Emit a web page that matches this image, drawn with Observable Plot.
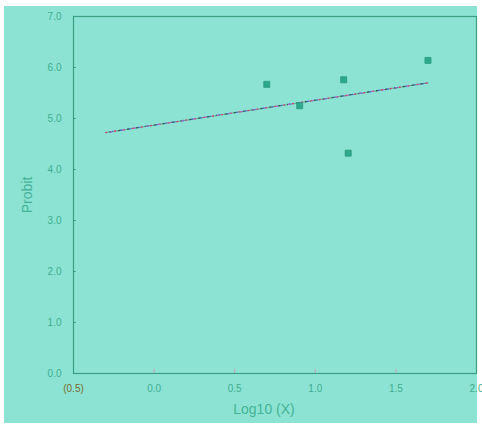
<!DOCTYPE html>
<html>
<head>
<meta charset="utf-8">
<script src="https://cdn.jsdelivr.net/npm/d3@7"></script>
<script src="https://cdn.jsdelivr.net/npm/@observablehq/plot@0.6"></script>
<style>
  html, body { margin: 0; padding: 0; background: #ffffff; }
  #wrap { position: relative; width: 482px; height: 425px; overflow: hidden; }
  #bg { position: absolute; left: 4px; top: 6px; width: 473px; height: 417px; background: #8ce3d4; }
  #chart { position: absolute; left: 0; top: 0; }
</style>
</head>
<body>
<div id="wrap"><div id="bg"></div><div id="chart"></div></div>
<script>
// Observed points: log10 of dose vs probit
const logX = [0.699, 0.903, 1.176, 1.204, 1.699];
const probit = [5.67, 5.25, 5.76, 4.32, 6.14];
// Fitted regression line endpoints
const fitX = [-0.30, 1.70];
const fitY = [4.725, 5.70];
// Tick values
const xTicks = [0, 0.5, 1.0, 1.5, 2.0];
const xNegTicks = [-0.5];
const yTicks = [0, 1, 2, 3, 4, 5, 6, 7];

const points = logX.map((x, i) => ({x, y: probit[i]}));
const fit = fitX.map((x, i) => ({x, y: fitY[i]}));

const tickColor = "#3fae8f";
const fmt = d => d < 0 ? `(${Math.abs(d).toFixed(1)})` : d.toFixed(1);

const chart = Plot.plot({
  width: 482,
  height: 425,
  marginLeft: 73,
  marginRight: 6,
  marginTop: 16,
  marginBottom: 52,
  style: {background: "transparent", fontFamily: "'Liberation Sans', Arial, sans-serif", fontSize: "10px"},
  x: {domain: [-0.5, 2.0]},
  y: {domain: [0, 7]},
  marks: [
    Plot.axisX({ticks: xTicks, tickFormat: fmt, tickSize: 0, tickPadding: 11, fill: tickColor, label: null}),
    Plot.axisX({ticks: xNegTicks, tickFormat: fmt, tickSize: 0, tickPadding: 11, fill: "#7a6a2a", label: null}),
    Plot.axisY({ticks: yTicks, tickFormat: d => d.toFixed(1), tickSize: 0, tickPadding: 12, fill: tickColor, label: null}),
    // inner tick marks
    Plot.ruleY(yTicks.filter(d => d > 0 && d < 7), {x1: -0.5, x2: -0.485, stroke: "#2f8a70", strokeWidth: 1}),
    Plot.ruleX(xTicks.filter(d => d < 2), {y1: 0, y2: 0.08, stroke: "#c9a0b8", strokeWidth: 1}),
    Plot.frame({stroke: "#3a9f80", strokeWidth: 1.2}),
    // speckled fit line
    Plot.line(fit, {x: "x", y: "y", stroke: "#72b0a0", strokeWidth: 1.3}),
    Plot.line(fit, {x: "x", y: "y", stroke: "#d04070", strokeWidth: 1.3, strokeDasharray: "1,8"}),
    Plot.line(fit, {x: "x", y: "y", stroke: "#4a6ad0", strokeWidth: 1.3, strokeDasharray: "1,8", strokeDashoffset: 3}),
    Plot.line(fit, {x: "x", y: "y", stroke: "#2a5a48", strokeWidth: 1.3, strokeDasharray: "1,8", strokeDashoffset: 5}),
    Plot.line(fit, {x: "x", y: "y", stroke: "#b070d0", strokeWidth: 1.3, strokeDasharray: "1,11", strokeDashoffset: 7}),
    Plot.dot(points, {x: "x", y: "y", symbol: "square", r: 3.4, fill: "#2ea88a", stroke: "#2a9a7e", strokeWidth: 0.8}),
    Plot.text(["Log10 (X)"], {frameAnchor: "bottom", dy: 40, dx: -11, fill: "#45b395", fontSize: 14}),
    Plot.text(["Probit"], {frameAnchor: "left", dx: -46, rotate: -90, textAnchor: "middle", fill: "#45b395", fontSize: 14})
  ]
});
document.getElementById("chart").appendChild(chart);
</script>
</body>
</html>
